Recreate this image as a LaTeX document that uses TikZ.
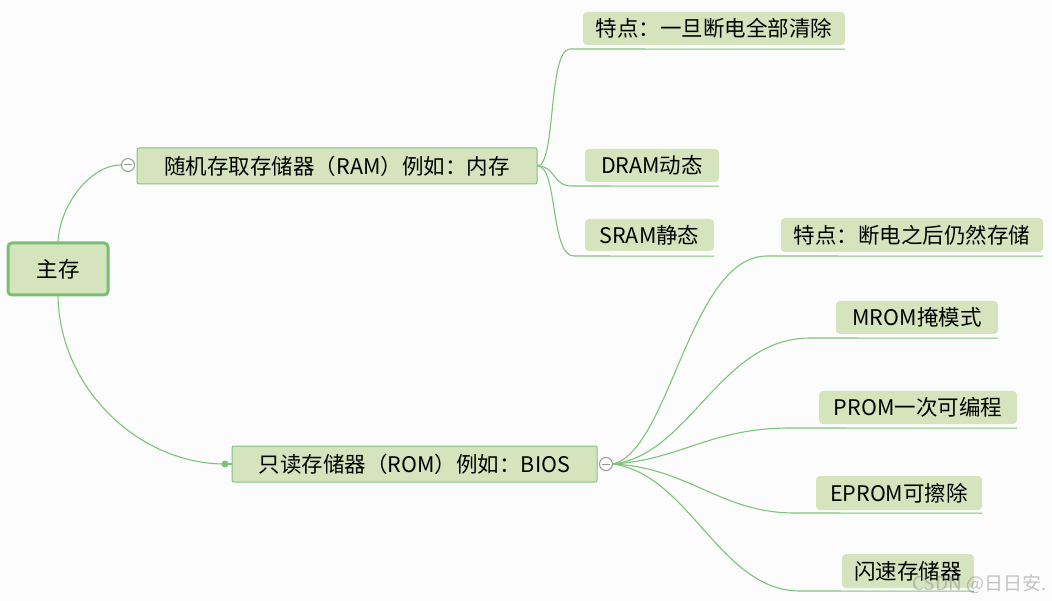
\documentclass[tikz,border=0pt]{standalone}
\usepackage{fontspec}
\setmainfont{Noto Sans CJK SC}
\definecolor{boxfill}{HTML}{D6E4BE}
\definecolor{linegreen}{HTML}{7DC47B}
\definecolor{rootborder}{HTML}{78BF74}
\definecolor{bg}{HTML}{FCFCFC}
\tikzset{
  conn/.style={draw=linegreen, line width=1.1pt},
  txt/.style={font=\fontsize{21.5}{25}\selectfont},
  rootbox/.style={txt, draw=rootborder, line width=3pt, fill=boxfill, rounded corners=4pt, inner sep=0pt},
  midbox/.style={txt, draw=linegreen, line width=1pt, fill=boxfill, rounded corners=2pt, inner sep=0pt},
  leafbox/.style={txt, fill=boxfill, rounded corners=4pt, inner sep=0pt},
  collapse/.style={circle, draw=gray!80, fill=white, line width=1pt, minimum size=13pt, inner sep=0pt},
}
\begin{document}
\begin{tikzpicture}[x=1pt,y=-1pt]
\fill[bg] (0,0) rectangle (1052,601);
\useasboundingbox (0,0) rectangle (1052,601);

% root
\node[rootbox, minimum width=100pt, minimum height=52pt] (root) at (58,269) {主存};

% second level
\node[midbox, minimum width=400pt, minimum height=36pt] (ram) at (337,166) {随机存取存储器（RAM）例如：内存};
\node[midbox, minimum width=365pt, minimum height=36pt] (rom) at (414.5,464) {只读存储器（ROM）例如：BIOS};
\node[collapse] (cram) at (128,165) {};
\draw[gray!80, line width=1pt] ([xshift=-4pt]cram.center) -- ([xshift=4pt]cram.center);
\node[collapse] (crom) at (606,464) {};
\draw[gray!80, line width=1pt] ([xshift=-4pt]crom.center) -- ([xshift=4pt]crom.center);
\coordinate (dot) at (225,464);

% leaves
\node[leafbox, minimum width=262pt, minimum height=33pt] (t1) at (714,28.5) {特点：一旦断电全部清除};
\node[leafbox, minimum width=134pt, minimum height=33pt] (dram) at (652,165.5) {DRAM动态};
\node[leafbox, minimum width=129pt, minimum height=32pt] (sram) at (649.5,235) {SRAM静态};
\node[leafbox, minimum width=262pt, minimum height=34pt] (r1) at (912,235) {特点：断电之后仍然存储};
\node[leafbox, minimum width=162pt, minimum height=33pt] (mrom) at (917,317.5) {MROM掩模式};
\node[leafbox, minimum width=198pt, minimum height=33pt] (prom) at (918,407.5) {PROM一次可编程};
\node[leafbox, minimum width=166pt, minimum height=34pt] (eprom) at (899,493) {EPROM可擦除};
\node[leafbox, minimum width=132pt, minimum height=34pt] (flash) at (908,571) {闪速存储器};

% underline start coordinates
\coordinate (ut1) at (570,49);
\coordinate (udram) at (572,186);
\coordinate (usram) at (574,256);
\coordinate (ur1) at (767,256);
\coordinate (umrom) at (810,338);
\coordinate (uprom) at (790,428);
\coordinate (ueprom) at (795,513);
\coordinate (uflash) at (800,591);

% root connectors
\draw[conn] (root.north) .. controls (60,205) and (90,165) .. (cram.west);
\draw[conn] (root.south) .. controls (60,390) and (140,464) .. (dot);
\fill[linegreen] (dot) circle (3.5pt);
\draw[conn] (dot) -- (rom.west);

% RAM children
\draw[conn] (ram.east) .. controls (556,166) and (548,49) .. (ut1) -- ([yshift=-4pt]t1.south east);
\draw[conn] (ram.east) .. controls (556,166) and (552,186) .. (udram) -- ([yshift=-4pt]dram.south east);
\draw[conn] (ram.east) .. controls (558,166) and (550,256) .. (usram) -- ([yshift=-5pt]sram.south east);

% ROM children
\draw[conn] (crom.east) .. controls (670,450) and (690,256) .. (ur1) -- ([yshift=-4pt]r1.south east);
\draw[conn] (crom.east) .. controls (690,455) and (720,338) .. (umrom) -- ([yshift=-4pt]mrom.south east);
\draw[conn] (crom.east) .. controls (680,460) and (710,428) .. (uprom) -- ([yshift=-4pt]prom.south east);
\draw[conn] (crom.east) .. controls (690,468) and (720,513) .. (ueprom) -- ([yshift=-3pt]eprom.south east);
\draw[conn] (crom.east) .. controls (690,475) and (720,591) .. (uflash) -- ([yshift=-3pt]flash.south east);

% watermark
\node[text=gray, opacity=0.45, font=\fontsize{19}{22}\selectfont, anchor=east] (wm) at (1050,584) {CSDN @日日安.};
\end{tikzpicture}
\end{document}
